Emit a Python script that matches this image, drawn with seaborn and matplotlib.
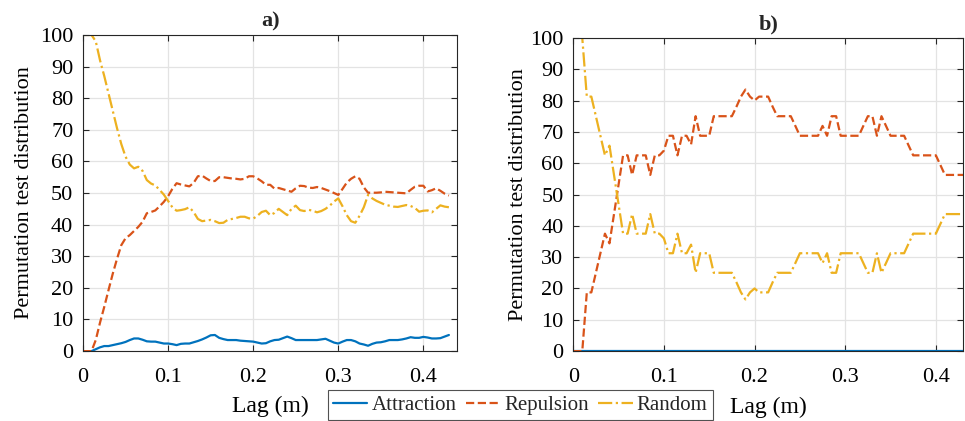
import numpy as np
import pandas as pd
import matplotlib
matplotlib.use('Agg')
import matplotlib.pyplot as plt
import seaborn as sns

# lag values (m)
lag = [0.000, 0.005, 0.010, 0.015, 0.020, 0.025, 0.030, 0.035, 0.040, 0.045,
       0.050, 0.055, 0.060, 0.065, 0.070, 0.075, 0.080, 0.085, 0.090, 0.095,
       0.100, 0.105, 0.110, 0.115, 0.120, 0.125, 0.130, 0.135, 0.140, 0.145,
       0.150, 0.155, 0.160, 0.165, 0.170, 0.175, 0.180, 0.185, 0.190, 0.195,
       0.200, 0.205, 0.210, 0.215, 0.220, 0.225, 0.230, 0.235, 0.240, 0.245,
       0.250, 0.255, 0.260, 0.265, 0.270, 0.275, 0.280, 0.285, 0.290, 0.295,
       0.300, 0.305, 0.310, 0.315, 0.320, 0.325, 0.330, 0.335, 0.340, 0.345,
       0.350, 0.355, 0.360, 0.365, 0.370, 0.375, 0.380, 0.385, 0.390, 0.395,
       0.400, 0.405, 0.410, 0.415, 0.420, 0.425, 0.430]

# panel a)
attraction_a = [0, 0, 0, 0.6, 1.2, 1.6, 1.6, 1.9, 2.2, 2.5,
                2.9, 3.5, 4, 4, 3.6, 3.1, 3, 3, 2.7, 2.4,
                2.4, 2.2, 1.9, 2.3, 2.4, 2.4, 2.8, 3.2, 3.7, 4.3,
                5, 5.1, 4.2, 3.8, 3.5, 3.5, 3.5, 3.3, 3.2, 3.1,
                3, 2.7, 2.4, 2.5, 3.1, 3.5, 3.6, 4.1, 4.6, 4.1,
                3.5, 3.5, 3.5, 3.5, 3.5, 3.5, 3.7, 3.9, 3.3, 2.7,
                2.4, 3, 3.5, 3.5, 3.1, 2.4, 2.1, 1.7, 2.3, 2.7,
                2.8, 3.1, 3.5, 3.5, 3.5, 3.7, 4, 4.4, 4.2, 4.2,
                4.5, 4.3, 4, 4, 4.1, 4.6, 5.1]
repulsion_a = [0, 0, 0, 3.5, 9, 14, 19.3, 24.5, 29.2, 33.5,
               35.7, 36.7, 38, 39.3, 40.9, 43.6, 44, 44.5, 45.8, 47.2,
               49, 51.3, 53.1, 52.7, 52.4, 52.1, 53.2, 55.3, 55.5, 54.6,
               53.8, 53.8, 55, 55, 54.8, 54.6, 54.5, 54.3, 54.5, 55.3,
               55.3, 54.6, 53.7, 52.6, 52.6, 51.4, 51.6, 51.2, 50.8, 50.4,
               51.5, 52.3, 52.2, 51.7, 51.6, 51.9, 51.6, 51.1, 50.6, 50,
               49.4, 51.3, 53.3, 54.5, 55.3, 54.5, 51.8, 50.1, 50.1, 50.1,
               50.2, 50.4, 50.3, 50.2, 50.1, 50, 49.9, 51, 52, 52.3,
               52.3, 50.5, 50.9, 51.5, 50.7, 49.8, 49.2]
random_a = [100, 100, 100, 98, 92, 87, 81.5, 76, 70.5, 65.5,
            61.5, 59, 57.8, 58.3, 57, 54.1, 53, 52.4, 51, 49.5,
            47.5, 45.5, 44.4, 44.6, 44.9, 45.5, 44, 41.8, 41.1, 41.3,
            41.5, 41.1, 40.5, 40.6, 41.5, 41.8, 42.1, 42.5, 42.5, 42,
            41.9, 42.8, 44, 44.4, 43, 43.7, 45, 44, 43, 45,
            46, 44.6, 44.3, 44.7, 44.4, 43.9, 44.3, 45, 46, 47.3,
            48.3, 45.8, 43, 41.1, 40.6, 42.8, 45.5, 49.4, 48.3, 47.5,
            46.9, 46.3, 46, 45.7, 45.6, 45.9, 46.2, 45.9, 45.3, 44.1,
            44.4, 44.5, 43.9, 45, 46.1, 45.7, 45.5]

# panel b)
attraction_b = [0] * 87
repulsion_b = [0, 0, 0, 18.75, 18.75, 25, 31.25, 37.5, 34.4, 43.75,
               53.1, 62.5, 62.5, 56.25, 62.5, 62.5, 62.5, 56.25, 62.5, 62.5,
               64, 68.75, 68.75, 62.5, 68.75, 68.75, 66, 75, 68.75, 68.75,
               68.75, 75, 75, 75, 75, 75, 78, 81.25, 83.5, 81.25,
               80, 81.25, 81.25, 81.25, 78, 75, 75, 75, 75, 71.9,
               68.75, 68.75, 68.75, 68.75, 68.75, 71.9, 68.75, 75, 75, 68.75,
               68.75, 68.75, 68.75, 68.75, 71.9, 75, 75, 68.75, 75, 71.9,
               68.75, 68.75, 68.75, 68.75, 65.6, 62.5, 62.5, 62.5, 62.5, 62.5,
               62.5, 59.4, 56.25, 56.25, 56.25, 56.25, 56.25]
random_b = [100, 100, 100, 81.25, 81.25, 75, 68.75, 62.5, 65.6, 56.25,
            46.9, 37.5, 37.5, 43.75, 37.5, 37.5, 37.5, 43.75, 37.5, 37.5,
            36, 31.25, 31.25, 37.5, 31.25, 31.25, 34, 25, 31.25, 31.25,
            31.25, 25, 25, 25, 25, 25, 22, 18.75, 16.5, 18.75,
            20, 18.75, 18.75, 18.75, 22, 25, 25, 25, 25, 28.1,
            31.25, 31.25, 31.25, 31.25, 31.25, 28.1, 31.25, 25, 25, 31.25,
            31.25, 31.25, 31.25, 31.25, 28.1, 25, 25, 31.25, 25, 28.1,
            31.25, 31.25, 31.25, 31.25, 34.4, 37.5, 37.5, 37.5, 37.5, 37.5,
            37.5, 40.6, 43.75, 43.75, 43.75, 43.75, 43.75]

series_names = ['Attraction', 'Repulsion', 'Random']
colors = ['#0072BD', '#D95319', '#EDB120']
styles = ['-', '--', '-.']
x_ticks = [0, 0.1, 0.2, 0.3, 0.4]
x_ticklabels = ['0', '0.1', '0.2', '0.3', '0.4']
y_ticks = list(range(0, 101, 10))

sns.set_theme(style='whitegrid')
plt.rcParams['font.family'] = ['Liberation Serif', 'DejaVu Serif']

fig = plt.figure(figsize=(9.65, 4.21), dpi=100)
ax_a = fig.add_axes([0.086, 0.166, 0.388, 0.751])
ax_b = fig.add_axes([0.594, 0.166, 0.404, 0.744])

# ax, title, data, x max, ylabel x pos, xlabel y pos
panels = [
    (ax_a, 'a)', [attraction_a, repulsion_a, random_a], 0.44, -0.131, -0.142),
    (ax_b, 'b)', [attraction_b, repulsion_b, random_b], 0.43, -0.115, -0.147),
]

for ax, title, data, xmax, ylab_x, xlab_y in panels:
    for name, vals, c, ls in zip(series_names, data, colors, styles):
        sns.lineplot(x=lag, y=vals, ax=ax, color=c, linestyle=ls,
                     linewidth=1.6, label=name)
    ax.set_xlim(0, xmax)
    ax.set_ylim(0, 100)
    ax.set_xticks(x_ticks)
    ax.set_xticklabels(x_ticklabels)
    ax.set_yticks(y_ticks)
    ax.tick_params(axis='both', which='both', direction='in', length=4,
                   width=0.8, color='#262626', labelsize=16,
                   top=True, right=True, bottom=True, left=True,
                   labelcolor='black')
    ax.tick_params(axis='x', pad=12)
    ax.tick_params(axis='y', pad=7)
    ax.grid(True, color='#e3e3e3', linewidth=0.9)
    ax.set_facecolor('white')
    for s in ax.spines.values():
        s.set_visible(True)
        s.set_color('#262626')
        s.set_linewidth(0.8)
    ax.set_xlabel('Lag (m)', fontsize=17, color='black')
    ax.set_ylabel('Permutation test distribution', fontsize=16, color='black')
    ax.xaxis.set_label_coords(0.5, xlab_y)
    ax.yaxis.set_label_coords(ylab_x, 0.5)
    ax.set_title(title, fontsize=16, fontweight='bold', pad=6)
    handles, labels = ax.get_legend_handles_labels()
    ax.get_legend().remove()

leg = fig.legend(handles, labels, loc='center', bbox_to_anchor=(0.539, 0.037),
                 ncol=3, fontsize=15, frameon=True, fancybox=False,
                 handlelength=1.65, columnspacing=0.45, handletextpad=0.2,
                 borderpad=0.25)
leg.get_frame().set_edgecolor('#262626')
leg.get_frame().set_linewidth(0.8)

fig.savefig('out.png', dpi=100)
